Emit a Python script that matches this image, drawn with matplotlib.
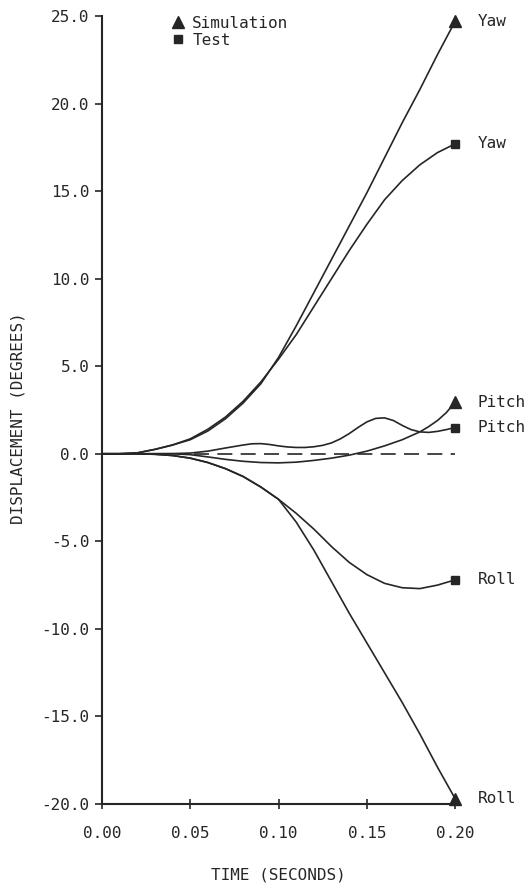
import numpy as np
import matplotlib
matplotlib.use("Agg")
import matplotlib.pyplot as plt
from matplotlib.lines import Line2D

plt.rcParams['font.family'] = ['DejaVu Sans Mono']
plt.rcParams['axes.unicode_minus'] = False

INK = '#262626'

# yaw response (degrees)
yaw_t = [0.00, 0.01, 0.02, 0.03, 0.04, 0.05, 0.06, 0.07, 0.08, 0.09, 0.10,
         0.11, 0.12, 0.13, 0.14, 0.15, 0.16, 0.17, 0.18, 0.19, 0.20]
yaw_sim = [0.0, 0.0, 0.05, 0.25, 0.5, 0.8, 1.3, 2.0, 2.9, 4.0, 5.5,
           7.3, 9.2, 11.1, 13.0, 14.9, 16.9, 18.9, 20.8, 22.8, 24.7]
yaw_test = [0.0, 0.0, 0.05, 0.25, 0.5, 0.85, 1.4, 2.1, 3.0, 4.1, 5.4,
            6.8, 8.4, 10.0, 11.6, 13.1, 14.5, 15.6, 16.5, 17.2, 17.7]

# pitch response
pitch_sim_t = [0.00, 0.04, 0.05, 0.06, 0.07, 0.08, 0.09, 0.10, 0.11, 0.12,
               0.13, 0.14, 0.15, 0.16, 0.17, 0.18, 0.185, 0.19, 0.195, 0.20]
pitch_sim = [0.0, 0.0, -0.05, -0.18, -0.32, -0.43, -0.5, -0.52, -0.48, -0.38,
             -0.25, -0.08, 0.15, 0.45, 0.8, 1.25, 1.55, 1.9, 2.35, 2.95]
pitch_test_t = [0.00, 0.02, 0.04, 0.05, 0.06, 0.07, 0.08, 0.085, 0.09, 0.095,
                0.10, 0.105, 0.11, 0.115, 0.12, 0.125, 0.13, 0.135, 0.14,
                0.145, 0.15, 0.155, 0.16, 0.165, 0.17, 0.175, 0.18, 0.185,
                0.19, 0.195, 0.20]
pitch_test = [0.0, 0.0, 0.01, 0.04, 0.15, 0.33, 0.5, 0.57, 0.58, 0.53,
              0.45, 0.39, 0.36, 0.36, 0.4, 0.48, 0.62, 0.85, 1.15,
              1.5, 1.82, 2.02, 2.05, 1.9, 1.62, 1.38, 1.25, 1.22,
              1.28, 1.38, 1.5]

# roll response
roll_t = [0.00, 0.02, 0.03, 0.04, 0.05, 0.06, 0.07, 0.08, 0.09, 0.10,
          0.11, 0.12, 0.13, 0.14, 0.15, 0.16, 0.17, 0.18, 0.19, 0.20]
roll_sim = [0.0, 0.0, -0.03, -0.1, -0.25, -0.5, -0.85, -1.3, -1.9, -2.6,
            -3.9, -5.5, -7.3, -9.1, -10.8, -12.5, -14.2, -16.0, -17.9, -19.7]
roll_test = [0.0, 0.0, -0.03, -0.1, -0.25, -0.5, -0.85, -1.3, -1.9, -2.6,
             -3.4, -4.3, -5.3, -6.2, -6.9, -7.4, -7.65, -7.7, -7.5, -7.2]

# zero reference
ref_t = [0.052, 0.20]
ref_y = [0.0, 0.0]

x_ticks = [0.00, 0.05, 0.10, 0.15, 0.20]
y_ticks = [-20.0, -15.0, -10.0, -5.0, 0.0, 5.0, 10.0, 15.0, 20.0, 25.0]

FS = 11.5

fig = plt.figure(figsize=(5.25, 8.88), dpi=100)
ax = fig.add_axes([0.194, 0.0946, 0.673, 0.8874])

series = [
    (yaw_t, yaw_sim, '^', 'Yaw'),
    (yaw_t, yaw_test, 's', 'Yaw'),
    (pitch_sim_t, pitch_sim, '^', 'Pitch'),
    (pitch_test_t, pitch_test, 's', 'Pitch'),
    (roll_t, roll_test, 's', 'Roll'),
    (roll_t, roll_sim, '^', 'Roll'),
]
for t, y, mk, name in series:
    ax.plot(t, y, color=INK, lw=1.2, solid_capstyle='round')
    ms = 9 if mk == '^' else 5.5
    ax.plot(t[-1], y[-1], marker=mk, ms=ms, color=INK, ls='none',
            clip_on=False, zorder=5)
    ax.annotate(name, (t[-1], y[-1]), xytext=(16, 0), textcoords='offset points',
                ha='left', va='center', fontsize=FS, color=INK,
                annotation_clip=False)

ax.plot(ref_t, ref_y, color=INK, lw=1.2, dashes=(9, 5))

ax.set_xlim(0.0, 0.2)
ax.set_ylim(-20.0, 25.0)
ax.set_xticks(x_ticks)
ax.set_yticks(y_ticks)
ax.set_xticklabels([f'{v:.2f}' for v in x_ticks])
ax.set_yticklabels([f'{v:.1f}' for v in y_ticks])
ax.tick_params(axis='x', direction='inout', length=7, width=1.2, pad=12,
               labelsize=FS, colors=INK)
ax.tick_params(axis='y', direction='out', length=5, width=1.2, pad=4,
               labelsize=FS, colors=INK)

for side in ['top', 'right']:
    ax.spines[side].set_visible(False)
for side in ['left', 'bottom']:
    ax.spines[side].set_linewidth(1.5)
    ax.spines[side].set_color(INK)

ax.set_xlabel('TIME (SECONDS)', fontsize=FS, color=INK, va='center')
ax.xaxis.set_label_coords(0.5, -0.090)
ax.set_ylabel('DISPLACEMENT (DEGREES)', fontsize=11.5, color=INK, va='center')
ax.yaxis.set_label_coords(-0.238, 0.49)

handles = [Line2D([], [], marker='^', ms=9, color=INK, ls='none'),
           Line2D([], [], marker='s', ms=5.5, color=INK, ls='none')]
ax.legend(handles, ['Simulation', 'Test'], loc='upper left',
          bbox_to_anchor=(0.17, 1.01), frameon=False, fontsize=FS,
          handlelength=1.0, handletextpad=0.4, labelspacing=0.1,
          borderpad=0.0, labelcolor=INK)

fig.savefig('out.png', dpi=100)
